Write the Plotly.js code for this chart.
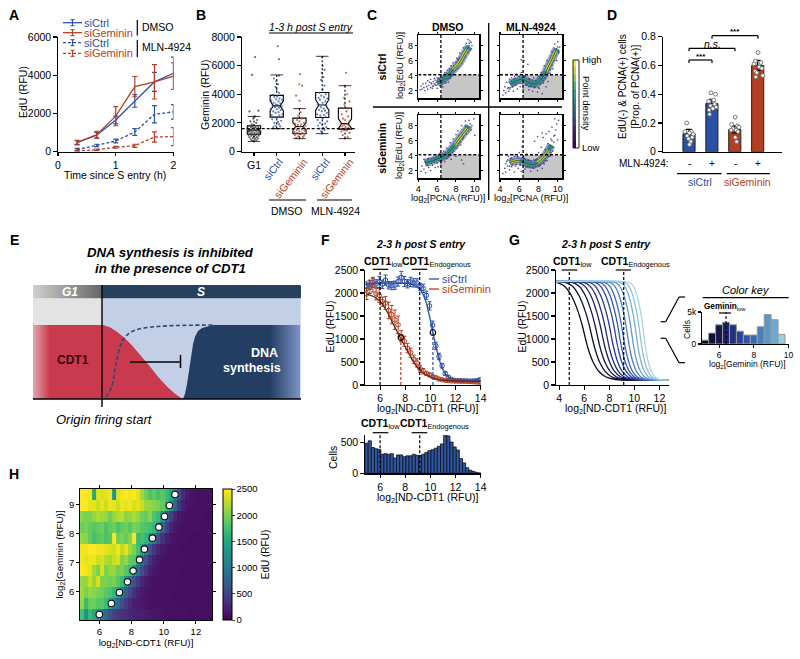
<!DOCTYPE html>
<html><head><meta charset="utf-8">
<script src="https://cdn.plot.ly/plotly-3.0.1.min.js"></script>
<style>html,body{margin:0;padding:0;background:#fff}#g{width:800px;height:659px}</style>
</head><body><div id="g"></div>
<script>
const BLUE='#2b50a8', RED='#b23f23', FONT='"Liberation Sans", Arial, sans-serif';
// ---- Panel A
const aTime=[0.33,0.67,1,1.33,1.67,2];
const aCtrl=[480,850,1650,2650,3650,4100], aCtrlErr=[110,150,200,330,500,850];
const aGem=[460,880,1850,3400,3650,3950], aGemErr=[110,180,500,530,900,700];
const aCtrlMln=[100,320,550,1020,1950,2080], aCtrlMlnErr=[60,60,100,180,450,380];
const aGemMln=[30,90,220,300,760,780], aGemMlnErr=[30,40,50,80,270,470];
// ---- Panel B
const bG1Y=[700,750,800,850,900,900,950,1000,1000,1050,1100,1100,1150,1150,1200,1200,1250,1250,1300,1300,1350,1350,1400,1400,1400,1450,1450,1500,1500,1500,1550,1550,1600,1600,1650,1650,1700,1700,1750,1800,1800,1850,1900,2000,2100,2200,2300,2450,2800,2850,5350,6600];
const bG1X=[1.0,.92,1.1,.86,1.05,1.18,.95,.8,1.12,1.0,.88,1.2,.76,1.07,.94,1.25,.84,1.14,.72,1.02,1.22,.9,.78,1.1,1.28,.96,.82,1.16,.7,1.04,1.24,.88,.74,1.12,.98,1.2,.86,1.06,.92,.78,1.18,1.0,.9,1.1,.84,1.14,.96,1.04,.8,1.2,.92,1.05];
const bCtrlY=[1600,1700,1750,1800,1900,2000,2050,2150,2250,2350,2400,2500,2550,2600,2700,2750,2800,2900,2950,3000,3050,3100,3150,3200,3250,3300,3350,3400,3500,3550,3600,3650,3700,3800,3850,3950,4100,4300,4500,4700,4900,5100,5300,6450,7350];
const bCtrlX=[2.0,1.85,2.15,1.95,2.1,1.9,2.05,2.2,1.8,2.0,1.88,2.12,1.78,2.25,1.95,2.08,1.85,2.18,2.0,1.75,2.1,1.92,2.22,1.82,2.04,1.96,2.16,1.86,2.08,1.76,2.24,1.98,2.12,1.9,2.02,1.84,2.1,2.0,1.94,2.06,1.98,1.88,2.1,2.1,2.05];
const bGemY=[900,950,1000,1050,1100,1150,1200,1250,1300,1300,1350,1400,1450,1500,1550,1600,1650,1700,1750,1800,1850,1900,1950,2000,2100,2200,2300,2500,2750,3000,3550,3900,4600,4700,5400];
const bGemX=[3.0,2.85,3.15,2.95,3.2,2.8,3.05,3.25,2.9,3.12,2.78,3.0,3.22,2.88,3.1,2.95,3.18,2.82,3.04,3.26,2.92,3.08,2.8,3.2,3.0,2.9,3.1,2.95,3.05,3.0,3.0,2.85,3.12,2.98,3.02];
const bCtrl2Y=[1250,1400,1500,1600,1650,1700,1800,1900,1950,2000,2100,2200,2300,2400,2500,2550,2600,2700,2800,2850,2900,3000,3100,3200,3300,3400,3500,3600,3700,3750,3800,3900,4000,4100,4300,4600,5000,5200,5500,5700,6000,6600];
const bCtrl2X=[4.0,3.95,4.1,3.88,4.05,4.18,3.82,4.0,4.12,3.9,4.22,3.8,4.02,4.15,3.92,4.08,3.78,4.2,3.98,4.12,3.86,4.06,3.94,4.18,3.8,4.02,4.14,3.9,4.22,3.84,4.08,3.96,4.16,3.88,4.02,4.1,3.95,4.05,3.98,4.1,4.02,4.0];
const bGem2Y=[900,1000,1150,1300,1400,1450,1500,1550,1600,1650,1700,1750,1800,1850,1900,2000,2100,2200,2300,2450,2600,2800,3000,3300,3500,3750,4000,4600,5500];
const bGem2X=[5.0,5.12,4.9,5.2,4.85,5.08,4.95,5.22,4.8,5.15,5.02,4.88,5.18,4.96,5.1,4.82,5.2,5.0,4.92,5.14,4.86,5.06,5.12,4.98,5.2,4.96,5.1,5.0,5.05];
const bPos=[1,2,3,4,5];
const bQ1=[1200,2400,1235,2380,1560], bMed=[1500,3190,1750,3250,1950], bQ3=[1800,3920,2330,4120,3030];
const bLow=[700,1600,900,1250,900], bHigh=[2450,5350,3000,6650,4600], bNotch=[90,340,250,370,340];
// ---- Panel C
const c1LineX=[6.0,6.5,7.1,7.6,8.35,9.0,9.4], c1LineY=[3.2,3.3,3.9,4.6,5.67,7.1,7.87];
const c1CoreX=[7.7,8.0,8.35,8.8,9.2], c1CoreY=[4.8,5.2,5.67,6.7,7.5];
const c1PtsX=[4.2,4.3,4.4,4.5,4.6,4.7,4.8,4.9,5.0,5.0,5.1,5.2,5.3,5.3,5.4,5.5,5.6,5.6,5.7,5.8,5.9,6.0,6.0,6.1,6.2,6.3,6.4,6.5,6.6,6.7,6.8,6.9,7.0,7.1,7.2,7.3,7.4,7.5,7.6,7.7,7.8,8.0,8.1,8.3,8.4,8.6,8.8,8.9,9.1,9.2,9.5,9.6,9.7,9.3,8.7,8.2, 5.4,5.5,5.7,5.8,5.9,6.0,6.1,6.2,6.3,6.3,6.5,6.6,6.7,6.8,6.9,7.0,7.2,7.2,7.3,7.4,7.6,7.7,7.8,7.9,8.0,8.2,8.3,8.5,8.6,8.7,8.9,9.0,9.1,9.3,9.4,9.5,9.6,9.4,9.0,8.4];
const c1PtsY=[2.1,2.6,2.2,2.9,2.4,2.0,3.0,2.5,2.2,3.3,2.7,3.1,2.4,3.5,2.9,2.3,3.2,2.6,3.6,2.8,3.1,2.3,3.7,3.0,3.4,2.6,4.1,2.9,2.5,3.6,4.4,3.0,3.5,4.7,3.1,4.9,3.7,5.3,4.1,5.7,4.6,4.9,6.3,5.3,7.0,5.7,7.7,6.4,8.3,7.1,8.6,7.6,8.0,8.8,6.8,6.1, 3.0,2.6,2.9,3.4,2.7,3.3,2.9,3.6,2.9,3.5,3.1,3.7,3.3,3.9,3.5,4.3,3.6,4.2,4.4,3.9,5.0,4.2,5.3,4.7,5.8,5.0,6.2,5.6,6.6,6.0,7.2,6.6,7.8,7.1,8.3,7.4,8.4,8.0,7.5,6.4];
const c2LineX=[5.06,5.6,6.2,6.47,7.0,7.7,8.2,8.6,9.3,9.9], c2LineY=[2.8,3.2,3.5,3.46,3.05,2.9,3.4,4.1,5.9,7.6];
const c2CoreX=[8.8,9.3,9.8], c2CoreY=[4.6,5.9,7.3];
const c2PtsX=[4.3,4.4,4.5,4.6,4.7,4.8,4.9,5.0,5.0,5.2,5.3,5.4,5.5,5.6,5.7,5.8,5.8,6.0,6.1,6.2,6.2,6.4,6.5,6.5,6.7,6.9,7.0,7.0,7.2,7.4,7.5,7.6,7.7,7.9,8.0,8.1,8.3,8.4,8.5,8.6,8.8,8.9,9.0,9.2,9.4,9.5,9.7,9.9,10.0,10.1,10.2,9.6,9.0, 4.9,5.0,5.1,5.2,5.3,5.4,5.5,5.6,5.7,5.9,6.0,6.1,6.3,6.6,6.8,7.0,7.1,7.3,7.4,7.6,7.8,8.0,8.1,8.2,8.3,8.5,8.6,8.7,8.8,9.0,9.1,9.2,9.3,9.4,9.5,9.6,9.7,9.8,10.0,10.1];
const c2PtsY=[1.4,2.0,2.5,1.7,3.1,2.3,1.9,3.5,2.2,3.7,2.5,1.9,3.9,2.7,4.2,2.2,3.4,3.9,2.5,6.1,4.4,2.2,6.0,3.8,2.7,5.5,3.6,2.1,2.6,1.9,3.7,2.4,3.3,1.8,3.9,2.3,4.4,1.6,3.0,5.3,2.5,6.0,3.2,4.3,7.2,4.9,8.2,6.0,8.5,7.2,7.8,6.3,5.0, 2.4,3.1,2.4,3.3,2.6,3.5,2.8,3.6,2.9,3.0,3.9,3.0,2.9,3.9,2.8,2.5,3.5,2.6,3.4,2.5,3.3,2.4,3.6,2.9,3.8,3.3,4.5,3.6,5.0,4.3,5.5,4.8,6.4,5.4,6.8,6.0,7.4,6.7,7.8,7.0];
const c3LineX=[4.7,5.5,6.3,7.0,7.5,8.4,9.4], c3LineY=[3.03,3.3,3.7,4.1,4.8,6.3,7.9];
const c3CoreX=[7.9,8.4,8.9,9.2], c3CoreY=[5.4,6.3,7.1,7.6];
const c3PtsX=[4.3,4.4,4.6,4.7,4.8,4.9,5.0,5.1,5.2,5.3,5.4,5.5,5.6,5.8,5.9,6.0,6.1,6.3,6.4,6.5,6.7,6.8,7.0,7.0,7.2,7.4,7.5,7.7,7.8,8.0,8.1,8.2,8.3,8.6,8.7,9.0,9.1,9.4,9.6,9.7,9.9,10.0,8.6,8.8,8.0, 4.6,4.8,5.0,5.1,5.3,5.4,5.6,5.7,5.9,6.1,6.2,6.4,6.6,6.7,6.9,7.1,7.2,7.3,7.5,7.6,7.8,7.9,8.1,8.2,8.3,8.5,8.6,8.8,8.9,9.1,9.2,9.3,9.5,9.6,9.0,8.5];
const c3PtsY=[1.9,2.6,2.2,3.2,1.7,2.8,3.5,2.4,3.0,2.0,3.6,2.7,3.2,2.4,3.9,3.0,2.5,4.3,2.9,3.4,4.6,3.2,5.0,3.6,3.9,5.7,3.5,6.2,4.6,6.8,5.0,7.3,5.6,8.0,6.2,8.6,6.9,8.7,7.4,8.0,8.9,6.7,3.4,2.9,3.9, 3.5,2.9,2.7,3.6,3.0,3.0,3.7,3.1,3.5,3.9,3.3,3.2,4.2,3.6,4.4,3.8,4.8,4.1,5.2,4.4,5.6,5.0,6.0,5.3,6.6,5.8,7.0,6.4,7.5,7.0,8.0,7.3,8.2,7.8,7.9,5.4];
const c4LineX=[5.0,5.6,6.25,6.9,7.5,8.0,8.5,9.0,9.35], c4LineY=[3.03,3.3,3.25,2.9,2.8,3.1,3.7,4.6,5.4];
const c4CoreAX=[5.1,5.6,6.0], c4CoreAY=[3.05,3.3,3.3];
const c4CoreBX=[7.9,8.3,8.7,9.05], c4CoreBY=[3.05,3.5,4.0,4.7];
const c4PtsX=[4.3,4.5,4.6,4.7,4.8,4.9,5.0,5.1,5.2,5.4,5.5,5.6,5.8,5.9,6.0,6.1,6.2,6.3,6.5,6.6,6.8,6.9,7.0,7.2,7.3,7.5,7.6,7.7,7.9,8.0,8.1,8.3,8.4,8.5,8.6,8.7,8.8,8.9,9.0,9.1,9.2,9.3,9.4,9.5,9.6,9.7,9.7,9.8,9.9,10.0,10.1,7.9,8.4, 4.6,4.8,5.0,5.2,5.3,5.5,5.7,5.9,6.1,6.3,6.4,6.6,6.7,6.9,7.1,7.2,7.4,7.5,7.7,7.8,8.0,8.2,8.4,8.5,8.7,8.8,9.0,9.1,9.3,9.4,9.5,9.6];
const c4PtsY=[1.6,2.3,1.8,3.2,2.6,3.9,2.1,3.6,2.5,4.1,1.8,2.6,3.9,2.3,4.4,2.8,1.9,5.2,3.6,2.2,4.2,2.5,3.4,1.9,4.1,2.3,5.9,3.4,2.0,4.4,2.6,5.1,2.3,6.4,2.9,4.8,6.9,3.3,5.6,7.2,3.9,6.2,7.8,4.6,5.8,8.9,6.7,7.4,8.2,6.1,8.7,6.5,7.0, 2.9,3.4,2.6,3.7,2.8,3.9,2.8,3.8,2.7,3.7,2.7,3.5,2.5,3.4,2.4,3.3,2.4,3.4,2.5,3.5,2.6,2.8,3.9,3.0,3.3,4.6,3.9,5.2,4.4,6.0,5.1,6.6];
const cDensityLevels=[[0],[5],[10],[20],[30],[40],[50],[60],[70],[80],[90],[100]];
// ---- Panel D
const dPos=[1,2,3,4], dVals=[0.125,0.335,0.155,0.6], dErr=[0.03,0.03,0.025,0.035];
const dPtsY=[.20,.14,.14,.13,.12,.11,.10,.09,.07,.05, .41,.40,.36,.35,.33,.32,.31,.30,.29,.26, .24,.19,.18,.17,.16,.15,.15,.14,.10,.07, .69,.63,.62,.61,.59,.58,.56,.55,.53,.52];
const dPtsX=[.9,1.1,.82,1.02,1.18,.92,1.14,.98,1.08,1.02, 1.96,2.16,2.08,1.86,2.12,1.94,2.18,2.04,1.88,1.9, 3.02,2.86,3.12,3.18,2.92,3.06,2.84,3.14,3.02,3.08, 4.02,3.9,4.14,3.84,4.06,4.18,3.9,3.96,4.22,3.92];
const dColors=[BLUE,BLUE,RED,RED];
// ---- Panel E (schematic profiles over time)
const eCdtT=[103,110,117,125,133,141,150,158,167,175,182.7], eCdtL=[1,.97,.91,.82,.71,.58,.44,.30,.17,.07,0];
const eDnaT=[183,185,187,189,191,193,195,198,202,213,300], eDnaL=[0,.07,.2,.38,.58,.74,.84,.92,.96,1,1];
const eOriT=[106,111.7,116.7,123,131.7,150,213], eOriL=[.03,.17,.53,.8,.91,.97,1];
// ---- Panel F
const fX=[4.93,5.18,5.43,5.68,5.93,6.18,6.43,6.68,6.93,7.18,7.43,7.68,7.93,8.18,8.43,8.68,8.93,9.18,9.43,9.68,9.93,10.18,10.43,10.68,10.93,11.18,11.43,11.68,11.93,12.18,12.43,12.68,12.93,13.18,13.43,13.68,13.93];
const fCtrl=[2150,2180,2230,2200,2240,2190,2280,2170,2160,2170,2250,2340,2250,2200,2240,2220,2220,2130,2100,1950,1720,1300,850,620,420,250,170,120,100,95,95,90,90,85,90,95,110];
const fCtrlErr=[90,100,110,90,120,90,110,80,90,90,100,130,110,90,100,90,90,80,90,90,90,90,80,70,50,40,30,25,20,20,20,20,20,20,20,25,40];
const fGem=[1980,2130,2170,1980,1950,1810,1780,1620,1530,1420,1310,1060,950,800,700,560,480,350,300,250,220,180,160,130,115,100,95,90,85,85,80,80,80,75,70,65,60];
const fGemErr=[120,140,150,130,150,100,140,180,200,210,190,120,110,100,100,90,90,70,60,40,40,30,30,25,20,20,20,20,20,20,20,20,20,20,20,20,30];
const fCtrlFitX=[4.9,5.5,6,7,8,8.5,9,9.3,9.6,9.9,10.2,10.5,10.8,11.1,11.4,11.8,12.5,14];
const fCtrlFitY=[2200,2210,2215,2220,2210,2190,2120,2030,1850,1530,1140,770,470,280,180,120,100,95];
const fGemFitX=[4.9,5.5,6,6.5,7,7.5,8,8.5,9,9.5,10,10.5,11,12,14];
const fGemFitY=[1980,1920,1820,1620,1350,1080,830,580,370,250,180,130,105,90,80];
const fHist=[490,530,420,400,390,310,320,310,320,250,300,300,270,285,285,310,295,290,310,340,370,385,410,440,480,620,610,510,430,380,240,170,90,50,30,15,5];
// ---- Panel G
const gLevels=[2250,2230,2150,1950,1600,1250,1000,750,500,300,180,125,105,100];
const gColors=['#08081c','#0e0e30','#141448','#1a1f62','#20297a','#27358f','#2d44a0','#3556ac','#3f6bb6','#4c82bf','#5f9ac8','#76b0d0','#8fc3d8','#a9d6de'];
const gC1=[3.4,3.8,4.4,4.95,5.5,5.88,6.1,6.35,6.7,7.15,7.7,8.4,9.3,12.75];
const gC2=[3.74,4.47,5.04,5.56,6.08,6.44,6.65,6.89,7.22,7.65,8.17,8.84,9.69,12.75];
const gC3=[3.74,5.03,5.57,6.07,6.56,6.9,7.1,7.33,7.64,8.05,8.54,9.17,9.98,12.75];
const gC4=[3.74,5.52,6.04,6.51,6.98,7.31,7.5,7.72,8.02,8.4,8.88,9.48,10.25,12.75];
const gC5=[3.74,5.96,6.46,6.91,7.36,7.67,7.85,8.05,8.34,8.71,9.16,9.74,10.47,12.75];
const gC6=[3.74,6.41,6.87,7.3,7.73,8.03,8.2,8.4,8.67,9.02,9.45,9.99,10.7,12.75];
const gC7=[3.74,6.85,7.29,7.7,8.11,8.39,8.55,8.74,8.99,9.33,9.73,10.25,10.92,12.75];
const gC8=[3.74,7.24,7.66,8.05,8.43,8.7,8.85,9.03,9.27,9.59,9.97,10.46,11.09,12.75];
const gC9=[3.74,7.63,8.03,8.39,8.75,9.0,9.15,9.32,9.55,9.84,10.21,10.67,11.26,12.75];
const gC10=[3.74,8.05,8.43,8.78,9.12,9.36,9.5,9.66,9.88,10.16,10.51,10.95,11.52,12.75];
const gC11=[3.74,8.47,8.83,9.16,9.49,9.72,9.85,10.0,10.21,10.48,10.81,11.23,11.77,12.75];
const gC12=[3.74,8.89,9.23,9.54,9.86,10.07,10.2,10.34,10.54,10.8,11.11,11.51,12.02,12.75];
const gC13=[3.74,9.23,9.56,9.87,10.17,10.38,10.5,10.64,10.83,11.08,11.38,11.77,12.26,12.75];
const gC14=[3.74,9.6,9.92,10.2,10.49,10.69,10.8,10.93,11.11,11.35,11.63,12,12.46,12.75];
const gKeyX=[5.2,5.6,6.0,6.4,6.8,7.2,7.6,8.0,8.4,8.8,9.2,9.6];
const gKeyY=[600,1700,3000,3400,3000,2000,1400,1400,2700,4600,3800,1500];
const gKeyColors=['#08081c','#101030','#15184a','#1c2268','#24307f','#2c429a','#3154aa','#3d67b3','#4a7fbc','#5a97c6','#6fa9ce','#9ccfd9'];
// ---- Panel H
const hX=[4.93,5.18,5.43,5.68,5.93,6.18,6.43,6.68,6.93,7.18,7.43,7.68,7.93,8.18,8.43,8.68,8.93,9.18,9.43,9.68,9.93,10.18,10.43,10.68,10.93,11.18,11.43,11.68,11.93,12.18,12.43,12.68,12.93];
const hY=[5.21,5.59,5.97,6.34,6.72,7.10,7.47,7.85,8.23,8.60,8.98,9.36];
const hRow1=[1750,1250,1700,1500,1250,1000,800,600,480,420,360, 320,280,250,220,200,180,160,140,130,120,110, 100,100,100,100,100,90,90,90,90,90,90];
const hRow2=[2100,1700,1950,1950,1850,1850,1700,1350,1100,850,600, 420,300,220,180,150,130,110,100,100,100,100, 100,100,90,90,90,90,90,90,90,90,90];
const hRow3=[2150,2000,2100,2050,2000,1950,1850,1800,1650,1350,1050, 750,520,350,230,160,130,110,100,100,100,100, 100,90,90,90,90,90,90,90,90,90,90];
const hRow4=[2100,2100,2300,2100,2350,2000,2000,1950,2000,1850,1700, 1350,950,650,420,280,180,130,110,100,100,100, 100,100,90,90,90,90,90,90,90,90,90];
const hRow5=[2500,2450,2400,2150,2000,2350,2000,2100,2100,1950,2000, 1850,1750,1300,900,600,380,230,150,120,100,100, 100,100,100,90,90,90,90,90,90,90,90];
const hRow6=[2450,2400,2450,2450,2300,2350,2200,2150,2300,2350,2000, 2100,1900,1850,1300,950,600,350,220,150,120,100, 100,100,100,100,90,90,90,90,90,90,90];
const hRow7=[2450,2450,2500,2500,2450,2450,2400,2350,2300,2450,2250, 2400,2150,2000,1750,1400,1050,650,400,250,170,130, 110,100,100,90,90,90,90,90,90,90,90];
const hRow8=[2100,2050,1900,1750,1850,1900,1800,1850,2500,1950,2000, 1900,2050,2500,1700,1750,1650,1350,1050,650,350,220, 150,120,100,100,100,90,90,90,90,90,90];
const hRow9=[1950,2000,1900,1850,1900,1950,1800,1900,1950,1800,1900, 1950,1850,2000,1950,1850,1800,1750,1650,1250,850,450, 250,160,120,100,100,100,100,100,90,90,90];
const hRow10=[2050,2000,2000,2100,2200,2150,2100,1950,2100,2200,2250, 2050,2100,2200,2100,1950,1900,2050,1800,1700,1350,800, 450,250,150,120,110,100,100,100,100,90,90];
const hRow11=[2500,2500,2400,2400,2300,2400,2300,2450,2400,2300,2450, 2400,2450,2350,2400,2300,2100,2100,2050,2000,1900,1700, 1300,800,400,220,140,120,110,100,100,100,100];
const hRow12=[2500,2500,2450,1500,2400,2350,2400,2450,1300,2400,2450, 2500,2450,2500,2400,2150,1950,1800,1900,1750,1850,1700, 1450,1100,620,300,180,130,120,110,110,100,100];
const hMidX=[6,6.75,7.25,7.75,8.1,8.5,8.8,9.3,9.7,10.05,10.35,10.7];
const hMidY=[5.21,5.59,5.97,6.34,6.72,7.10,7.47,7.85,8.23,8.60,8.98,9.36];

// ---- helpers
const W=800,H=659;
const layout={width:W,height:H,margin:{l:0,r:0,t:0,b:0},paper_bgcolor:'#fff',plot_bgcolor:'rgba(0,0,0,0)',showlegend:false,
 font:{family:FONT,size:10.5,color:'#000'},shapes:[],annotations:[]};
const data=[];
function axes(id,b){
 const base={showgrid:false,zeroline:false,showline:true,linecolor:'#000',linewidth:1.2,ticks:'outside',ticklen:3.5,tickwidth:1.1,tickcolor:'#000',fixedrange:true,tickfont:{size:b.fs||10.5,family:FONT}};
 layout['xaxis'+id]=Object.assign({},base,{domain:[b.l/W,b.r/W],range:b.xr,anchor:'y'+id},b.x||{});
 layout['yaxis'+id]=Object.assign({},base,{domain:[1-b.b/H,1-b.t/H],range:b.yr,anchor:'x'+id},b.y||{});
}
function add(id,t){t.xaxis='x'+id;t.yaxis='y'+id;data.push(t);}
function T(x,y,text,o={}){layout.annotations.push({xref:'paper',yref:'paper',x:x/W,y:1-y/H,text,showarrow:false,xanchor:o.a||'center',yanchor:'middle',textangle:o.r||0,borderpad:0,
 font:{family:FONT,size:o.s||10.5,color:o.c||'#000'}});}
function L(x0,y0,x1,y1,c='#000',w=1.2,dash='solid',layer='above'){layout.shapes.push({type:'line',xref:'paper',yref:'paper',x0:x0/W,x1:x1/W,y0:1-y0/H,y1:1-y1/H,line:{color:c,width:w,dash},layer});}
function R(x0,y0,x1,y1,c,layer='below'){layout.shapes.push({type:'rect',xref:'paper',yref:'paper',x0:x0/W,x1:x1/W,y0:1-y0/H,y1:1-y1/H,fillcolor:c,line:{width:0},layer});}
function bracket(x0,x1,y,d=3){L(x0,y+d,x0,y);L(x0,y,x1,y);L(x1,y,x1,y+d);}
const SD='3px,2px';
const logX='log<sub>2</sub>[ND-CDT1 (RFU)]';

[['A',14,15],['B',201,15],['C',372,15],['D',612,15],['E',14,240],['F',325,240],['G',514,240],['H',14,474]].forEach(p=>T(p[1],p[2],'<b>'+p[0]+'</b>',{s:14}));

// ---- A
axes(1,{l:58,r:173.5,t:37,b:151.5,xr:[0,2],yr:[0,6000],x:{tickvals:[0,1,2]},y:{tickvals:[0,2000,4000,6000]}});
T(115,175,'Time since S entry (h)');T(23,92,'EdU (RFU)',{r:-90});
function lineA(y,e,c,dash){add(1,{type:'scatter',mode:'lines',x:aTime,y,line:{color:c,width:1.3,dash},error_y:{type:'data',array:e,color:c,thickness:1.2,width:2.5},cliponaxis:false});}
lineA(aCtrl,aCtrlErr,BLUE,'solid');lineA(aGem,aGemErr,RED,'solid');lineA(aCtrlMln,aCtrlMlnErr,BLUE,'3px,2px');lineA(aGemMln,aGemMlnErr,RED,'3px,2px');
[[22.7,BLUE,'solid','siCtrl'],[32.7,RED,'solid','siGeminin'],[42.7,BLUE,'3px,2px','siCtrl'],[53.3,RED,'3px,2px','siGeminin']].forEach(r=>{
 L(63,r[0],82,r[0],r[1],1.3,r[2]);L(72.5,r[0]-3,72.5,r[0]+3,r[1],1.1);L(70.5,r[0]-3,74.5,r[0]-3,r[1],1.1);L(70.5,r[0]+3,74.5,r[0]+3,r[1],1.1);
 T(83,r[0],r[3],{a:'left',c:r[1],s:11});});
L(137.3,20,137.3,35.5);L(137.3,40,137.3,57);
T(141,27,'DMSO',{a:'left'});T(141,47,'MLN-4924',{a:'left'});

// ---- B
axes(2,{l:241.7,r:355,t:37,b:151.5,xr:[0.46,5.44],yr:[0,8000],
 x:{tickvals:[1,2,3,4,5],ticktext:['G1',' ',' ',' ',' ']},y:{tickvals:[0,2000,4000,6000,8000]}});
T(205,94,'Geminin (RFU)',{r:-90});
[[bG1X,bG1Y,'#333'],[bCtrlX,bCtrlY,BLUE],[bGemX,bGemY,RED],[bCtrl2X,bCtrl2Y,BLUE],[bGem2X,bGem2Y,RED]].forEach(s=>
 add(2,{type:'scatter',mode:'markers',x:s[0],y:s[1],marker:{size:2.2,color:s[2],opacity:.75}}));
bPos.forEach((p,i)=>{
 add(2,{type:'box',x:[p],q1:[bQ1[i]],median:[bMed[i]],q3:[bQ3[i]],lowerfence:[bQ1[i]],upperfence:[bQ3[i]],notchspan:[bNotch[i]],notched:true,notchwidth:.25,width:.58,whiskerwidth:0,boxpoints:false,line:{color:'#000',width:1.1},fillcolor:'rgba(0,0,0,0)'});
 [[bLow[i],bQ1[i]],[bHigh[i],bQ3[i]]].forEach(w=>add(2,{type:'scatter',mode:'lines+markers',x:[p,p],y:w,line:{color:'#000',width:1.1,dash:'2px,2px'},marker:{symbol:'line-ew',size:[9,0],line:{color:'#000',width:1.1}}}));
});
add(2,{type:'scatter',mode:'lines',x:[0.46,5.44],y:[1600,1600],line:{color:'#000',width:1.2,dash:'3px,2px'}});
T(273,169,'siCtrl',{r:-52,c:BLUE});T(290.7,178,'siGeminin',{r:-52,c:RED});T(320,169,'siCtrl',{r:-52,c:BLUE});T(336.7,178,'siGeminin',{r:-52,c:RED});
T(311,27,'<i>1-3 h post S entry</i>',{s:10.5});L(269,33,353,33);
L(269,200,306,200);L(317,200,352,200);T(287,211,'DMSO');T(335,211,'MLN-4924');

// ---- C
const cBoxes=[[3,418.3,479,35,98],[4,500,562,35,98],[5,418.3,479,115,178],[6,500,562,115,178]];
const cTrace=[[c1LineX,c1LineY,[[c1CoreX,c1CoreY]],c1PtsX,c1PtsY],[c2LineX,c2LineY,[[c2CoreX,c2CoreY]],c2PtsX,c2PtsY],[c3LineX,c3LineY,[[c3CoreX,c3CoreY]],c3PtsX,c3PtsY],[c4LineX,c4LineY,[[c4CoreAX,c4CoreAY],[c4CoreBX,c4CoreBY]],c4PtsX,c4PtsY]];
cBoxes.forEach((b,i)=>{
 const id=b[0],left=i%2==0,bottom=i>1;
 axes(id,{l:b[1],r:b[2],t:b[3],b:b[4],fs:9,xr:[4,10.45],yr:[1,9.4],
  x:{tickvals:[4,6,8,10],mirror:'allticks',showticklabels:bottom,ticklen:2,linewidth:1.5},
  y:{tickvals:[2,4,6,8],mirror:'allticks',showticklabels:left,ticklen:2,linewidth:1.5}});
 layout.shapes.push({type:'rect',xref:'x'+id,yref:'y'+id,x0:6.4,x1:10.45,y0:1,y1:4.1,fillcolor:'#c6c6c6',line:{width:0},layer:'below'});
 const d=cTrace[i];
 add(id,{type:'scatter',mode:'markers',x:d[3],y:d[4],marker:{size:1.7,color:'#35307f',opacity:.85}});
 add(id,{type:'scatter',mode:'lines',x:d[0],y:d[1],opacity:.45,line:{color:'#3c2f86',width:8.5,shape:'spline'}});
 add(id,{type:'scatter',mode:'lines',x:d[0],y:d[1],opacity:.8,line:{color:'#2c6f8e',width:5,shape:'spline'}});
 add(id,{type:'scatter',mode:'lines',x:d[0],y:d[1],line:{color:'#29a384',width:3,shape:'spline'}});
 d[2].forEach(c=>{
  add(id,{type:'scatter',mode:'lines',x:c[0],y:c[1],line:{color:'#6fcf57',width:3.2,shape:'spline'}});
  add(id,{type:'scatter',mode:'lines',x:c[0],y:c[1],line:{color:'#fde725',width:1.8,shape:'spline'}});
  add(id,{type:'scatter',mode:'lines',x:c[0],y:c[1],line:{color:'#d9411e',width:.7,shape:'spline'}});
 });
 add(id,{type:'scatter',mode:'lines',x:d[0],y:d[1],opacity:.75,line:{color:'#111',width:.7,shape:'spline'}});
 layout.shapes.push({type:'line',xref:'x'+id,yref:'y'+id,x0:6.4,x1:6.4,y0:1,y1:9.4,line:{color:'#000',width:1.3,dash:SD}});
 layout.shapes.push({type:'line',xref:'x'+id,yref:'y'+id,x0:4,x1:10.45,y0:4.1,y1:4.1,line:{color:'#000',width:1.3,dash:SD}});
});
T(448,198,'log<sub>2</sub>[PCNA (RFU)]',{s:9.3});T(531,198,'log<sub>2</sub>[PCNA (RFU)]',{s:9.3});
T(400,66,'log<sub>2</sub>[EdU (RFU)]',{r:-90,s:9.3});T(400,146,'log<sub>2</sub>[EdU (RFU)]',{r:-90,s:9.3});
L(488.7,23,488.7,200,'#000',1.3);L(373,107,562,107,'#000',1.3);
T(447.7,27,'<b>DMSO</b>',{s:10.5});T(531,27,'<b>MLN-4924</b>',{s:10.5});
T(381.7,66.7,'<b>siCtrl</b>',{r:-90,s:10.5});T(381.7,148,'<b>siGeminin</b>',{r:-90,s:10.5});
axes(7,{l:573,r:579,t:60,b:148,xr:[0,1],yr:[-.5,11.5],x:{visible:false},y:{visible:false}});
add(7,{type:'heatmap',z:cDensityLevels,colorscale:'Viridis',showscale:false});
layout.shapes.push({type:'rect',xref:'paper',yref:'paper',x0:573/W,x1:579/W,y0:1-148/H,y1:1-60/H,line:{color:'#222',width:1}});
T(581,59,'High',{a:'left',s:9.5});T(581,148,'Low',{a:'left',s:9.5});T(587,103,'Point density',{r:90,s:9.5});

// ---- D
axes(8,{l:662.7,r:781.7,t:36.7,b:151.7,xr:[-0.149,5.05],yr:[0,.8],
 x:{tickvals:[],ticks:''},y:{tickvals:[0,.2,.4,.6,.8],tickformat:'.1~f'}});
T(629,87,'EdU(-) &amp; PCNA(+) cells<br>[Prop. of PCNA(+)]',{r:-90,s:10});
add(8,{type:'bar',x:dPos,y:dVals,width:.53,marker:{color:dColors,line:{color:'#222',width:1}},error_y:{type:'data',array:dErr,color:'#000',thickness:1.2,width:3}});
add(8,{type:'scatter',mode:'markers',x:dPtsX,y:dPtsY,marker:{size:3.8,color:'#fff',line:{color:'#666',width:.9}}});
bracket(689,712,60);bracket(689,735,48.3);bracket(712,758,35.7);
T(700.6,56,'<b>***</b>',{s:8});T(712.7,43.5,'<i>n.s.</i>',{s:10.5});T(735,31.5,'<b>***</b>',{s:8});
T(618,164,'MLN-4924:',{a:'left',s:10});
[[689,'-'],[712.3,'+'],[735,'-'],[757.7,'+']].forEach(p=>T(p[0],164,p[1],{s:10}));
L(677,173.7,721.7,173.7);L(726.7,173.7,770,173.7);
T(700,182,'siCtrl',{c:BLUE,s:10.5});T(747.7,182,'siGeminin',{c:RED,s:10.5});

// ---- E
axes(9,{l:33,r:301,t:285,b:407,xr:[33,301],yr:[(399-407)/74,(399-285)/74],x:{visible:false},y:{visible:false}});
R(33,298.3,102,325,'#e3e3e3');R(102,298.3,300.7,399,'#c3cfe6');
add(9,{type:'scatter',mode:'lines',x:[33].concat(eCdtT).concat([33,33]),y:[1].concat(eCdtL).concat([0,1]),fill:'toself',line:{width:0},
 fillgradient:{type:'horizontal',start:33,stop:50,colorscale:[[0,'#e2a6ad'],[1,'#c93a4e']]}});
add(9,{type:'scatter',mode:'lines',x:eDnaT.concat([300,183]),y:eDnaL.concat([0,0]),fill:'toself',line:{width:0},
 fillgradient:{type:'horizontal',start:270,stop:300,colorscale:[[0,'#233d63'],[1,'#7c93c4']]}});
add(9,{type:'scatter',mode:'lines',x:eOriT,y:eOriL,line:{color:'#2a4a72',width:1.6,dash:'4px,2.5px',shape:'spline'}});
add(9,{type:'scatter',mode:'lines',x:[33,102,102,33,33],y:[1.54,1.54,1.36,1.36,1.54],fill:'toself',line:{width:0},
 fillgradient:{type:'horizontal',start:33,stop:102,colorscale:[[0,'#cfcfcf'],[1,'#666666']]}});
add(9,{type:'scatter',mode:'lines',x:[102,300,308,300,102,102],y:[1.54,1.54,1.45,1.36,1.36,1.54],fill:'toself',fillcolor:'#27405f',line:{width:0}});
L(33,399,301,399,'#000',1.5);L(102,285,102,407,'#000',1.4);L(130,362,181,362,'#000',1.5);L(180.5,355,180.5,368,'#000',1.5);
T(170,252,'<b><i>DNA synthesis is inhibited</i></b>',{s:13.2});T(170,268,'<b><i>in the presence of CDT1</i></b>',{s:13.2});
T(70,291.5,'<b><i>G1</i></b>',{c:'#fff',s:12});T(201,291.5,'<b><i>S</i></b>',{c:'#fff',s:12});
T(73,360,'<b>CDT1</b>',{c:'#33080f',s:12});T(264,353,'<b>DNA</b>',{c:'#fff',s:12.5});T(252,368,'<b>synthesis</b>',{c:'#fff',s:12.5});
T(104,419,'<i>Origin firing start</i>',{s:13});

// ---- F
axes(10,{l:365,r:480.7,t:270,b:385,xr:[4.8,14],yr:[0,2500],x:{tickvals:[6,8,10,12,14]},y:{tickvals:[0,500,1000,1500,2000,2500]}});
T(428,409,logX);T(329.5,327,'EdU (RFU)',{r:-90});
add(10,{type:'scatter',mode:'markers',x:fX,y:fCtrl,marker:{size:4.5,color:'rgba(0,0,0,0)',line:{color:BLUE,width:1}},error_y:{type:'data',array:fCtrlErr,color:BLUE,thickness:1,width:2}});
add(10,{type:'scatter',mode:'markers',x:fX,y:fGem,marker:{size:4.5,color:'rgba(0,0,0,0)',line:{color:RED,width:1}},error_y:{type:'data',array:fGemErr,color:RED,thickness:1,width:2}});
add(10,{type:'scatter',mode:'lines',x:fCtrlFitX,y:fCtrlFitY,line:{color:BLUE,width:1.3,shape:'spline'}});
add(10,{type:'scatter',mode:'lines',x:fGemFitX,y:fGemFitY,line:{color:'#6e2413',width:1.2,shape:'spline'}});
add(10,{type:'scatter',mode:'lines',x:[10.2,10.2],y:[0,1140],line:{color:BLUE,width:1.2,dash:SD}});
add(10,{type:'scatter',mode:'lines',x:[7.65,7.65],y:[0,1030],line:{color:RED,width:1.2,dash:SD}});
add(10,{type:'scatter',mode:'lines',x:[6,6],y:[0,2500],line:{color:'#000',width:1.2,dash:SD}});
add(10,{type:'scatter',mode:'lines',x:[9.15,9.15],y:[0,2500],line:{color:'#000',width:1.2,dash:SD}});
add(10,{type:'scatter',mode:'markers',x:[10.2,7.65],y:[1140,1030],marker:{size:5.5,color:'rgba(0,0,0,0)',line:{color:'#000',width:1.1}}});
T(421,244,'<b><i>2-3 h post S entry</i></b>',{s:10.5});
L(372.7,269.3,388.3,269.3);L(411.7,269.3,427.3,269.3);
T(363.3,262,'<b>CDT1</b><sub>low</sub>',{a:'left'});T(400.7,262,'<b>CDT1</b><sub>Endogenous</sub>',{a:'left'});
L(429,279,439,279,BLUE,1.3);L(429,289,439,289,RED,1.3);
T(441,279,'siCtrl',{a:'left',c:BLUE,s:11});T(441,289,'siGeminin',{a:'left',c:RED,s:11});

axes(11,{l:365,r:480.7,t:435,b:473.3,xr:[4.8,14],yr:[0,625],x:{tickvals:[6,8,10,12,14]},y:{tickvals:[0,500]}});
T(428,497.5,logX);T(333,458,'Cells',{r:-90});
add(11,{type:'bar',x:fX,y:fHist,width:.25,marker:{color:'#2f55a5',line:{color:'#111',width:.8}}});
add(11,{type:'scatter',mode:'lines',x:[6,6],y:[0,625],line:{color:'#000',width:1.2,dash:SD}});
add(11,{type:'scatter',mode:'lines',x:[9.15,9.15],y:[0,625],line:{color:'#000',width:1.2,dash:SD}});
T(360,424,'<b>CDT1</b><sub>low</sub>',{a:'left'});T(399.3,424,'<b>CDT1</b><sub>Endogenous</sub>',{a:'left'});
L(372.7,432.7,388.3,432.7);L(411.7,432.7,427.3,432.7);

// ---- G
axes(12,{l:556,r:668.8,t:270,b:385,xr:[3.74,12.75],yr:[0,2500],x:{tickvals:[4,6,8,10,12]},y:{tickvals:[0,500,1000,1500,2000,2500]}});
T(616,409,logX);T(521.5,327,'EdU (RFU)',{r:-90});
[gC1,gC2,gC3,gC4,gC5,gC6,gC7,gC8,gC9,gC10,gC11,gC12,gC13,gC14].forEach((c,i)=>
 add(12,{type:'scatter',mode:'lines',x:c,y:gLevels,line:{color:gColors[i],width:1.3,shape:'spline',smoothing:.7}}));
add(12,{type:'scatter',mode:'lines',x:[4.8,4.8],y:[0,2500],line:{color:'#000',width:1.2,dash:SD}});
add(12,{type:'scatter',mode:'lines',x:[9.15,9.15],y:[0,2500],line:{color:'#000',width:1.2,dash:SD}});
T(606,244,'<b><i>2-3 h post S entry</i></b>',{s:10.5});
T(551.7,262,'<b>CDT1</b><sub>low</sub>',{a:'left'});T(600,262,'<b>CDT1</b><sub>Endogenous</sub>',{a:'left'});
L(561.7,270,577.3,270);L(615.7,270,631,270);

axes(13,{l:701.7,r:788.5,t:312,b:344,fs:8.5,xr:[5,10],yr:[0,5000],
 x:{tickvals:[6,8,10],ticklen:2.5},y:{tickvals:[0,5000],ticktext:['0','5k'],ticklen:2.5}});
T(747,364,'log<sub>2</sub>[Geminin (RFU)]',{s:8.5});T(687,330,'Cells',{r:-90,s:8.5});
add(13,{type:'bar',x:gKeyX,y:gKeyY,width:.4,marker:{color:gKeyColors,line:{color:'#999',width:1}}});
add(13,{type:'scatter',mode:'lines',x:[6.4,6.4],y:[0,5000],line:{color:'#000',width:1.1,dash:SD}});
T(746,290,'<i>Color key</i>',{s:11});L(702.7,297.7,788.7,297.7);
T(725,306.5,'<b>Geminin</b><sub>low</sub>',{s:8.2});L(719,313,731,313);
L(660.7,321.7,665.7,321.7);L(665.7,321.7,679,297);L(679,297,685,297);
L(660.7,338.3,665.7,338.3);L(665.7,338.3,679,362.7);L(679,362.7,685,362.7);

// ---- H
axes(14,{l:80,r:212,t:489,b:620,fs:9.5,xr:[4.8,13],yr:[5.02,9.55],
 x:{tickvals:[6,8,10,12],mirror:'allticks',ticklen:2.5,linewidth:1.4,title:{text:logX,font:{size:9.8},standoff:1}},
 y:{tickvals:[6,7,8,9],mirror:'allticks',ticklen:2.5,linewidth:1.4,title:{text:'log<sub>2</sub>[Geminin (RFU)]',font:{size:9.8},standoff:3}}});
add(14,{type:'heatmap',x:hX,y:hY,z:[hRow1,hRow2,hRow3,hRow4,hRow5,hRow6,hRow7,hRow8,hRow9,hRow10,hRow11,hRow12],zmin:0,zmax:2500,colorscale:'Viridis',zsmooth:false,
 colorbar:{x:223/W,xanchor:'left',xpad:0,y:1-620/H,yanchor:'bottom',ypad:0,len:131/H,lenmode:'fraction',thickness:8.5,thicknessmode:'pixels',tickvals:[0,500,1000,1500,2000,2500],ticks:'outside',ticklen:2.5,tickfont:{size:9.5,family:FONT},outlinewidth:1,outlinecolor:'#000',title:{text:'EdU (RFU)',side:'right',font:{size:10,family:FONT}}}});
add(14,{type:'scatter',mode:'markers',x:hMidX,y:hMidY,marker:{size:6.5,color:'#fff',line:{color:'#111',width:1.1}}});

Plotly.newPlot('g',data,layout,{displayModeBar:false,staticPlot:true});
</script></body></html>
